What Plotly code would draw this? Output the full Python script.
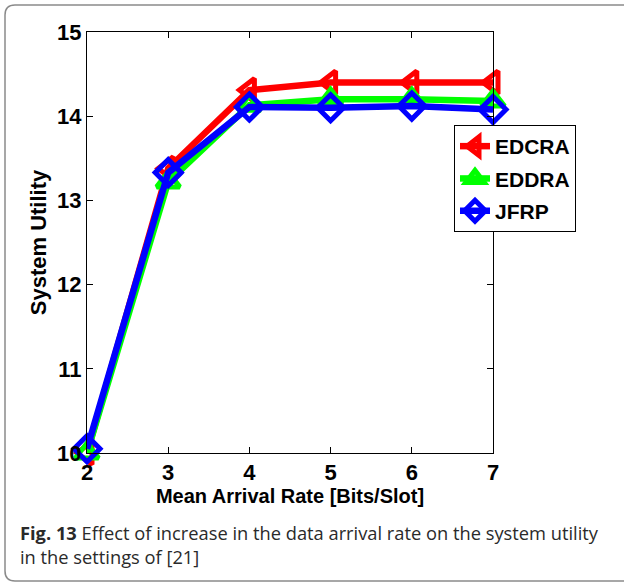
import plotly.graph_objects as go

rates = [2, 3, 4, 5, 6, 7]
edcra = [10.0, 13.38, 14.31, 14.40, 14.40, 14.40]
eddra = [10.0, 13.22, 14.13, 14.20, 14.20, 14.18]
jfrp = [10.05, 13.33, 14.11, 14.10, 14.12, 14.08]

series = [
    ("EDCRA", edcra, "#ff0000", "triangle-left-open"),
    ("EDDRA", eddra, "#00ff00", "triangle-up-open"),
    ("JFRP", jfrp, "#0000ff", "diamond-open"),
]

fig = go.Figure()
for name, vals, col, sym in series:
    fig.add_trace(go.Scatter(
        x=rates, y=vals, name=name, mode="lines+markers", legendgroup=name,
        line=dict(color=col, width=6.5),
        marker=dict(symbol=sym, size=20, color=col, line=dict(color=col, width=5)),
        cliponaxis=False,
    ))

L, R, T, B = 87, 493, 32, 453
W, H = 624, 584
pw, ph = R - L, B - T

def px(x):
    return (x - L) / pw

def py(y):
    return (B - y) / ph

# rounded frame
x0, y0, x1, y1, r = 5, 5, 632, 581, 10
path = (f"M {px(x0+r)},{py(y0)} L {px(x1-r)},{py(y0)} Q {px(x1)},{py(y0)} {px(x1)},{py(y0+r)} "
        f"L {px(x1)},{py(y1-r)} Q {px(x1)},{py(y1)} {px(x1-r)},{py(y1)} "
        f"L {px(x0+r)},{py(y1)} Q {px(x0)},{py(y1)} {px(x0)},{py(y1-r)} "
        f"L {px(x0)},{py(y0+r)} Q {px(x0)},{py(y0)} {px(x0+r)},{py(y0)} Z")

tick_font = dict(family="Liberation Sans, Arial", size=22, color="black", weight="bold")

fig.update_layout(
    width=W, height=H,
    margin=dict(l=L, r=W - R, t=T, b=H - B),
    paper_bgcolor="white", plot_bgcolor="white",
    showlegend=True,
    legend=dict(
        x=px(454), y=py(125), xanchor="left", yanchor="top",
        bgcolor="white", bordercolor="black", borderwidth=1,
        font=dict(family="Liberation Sans, Arial", size=21, color="black", weight="bold"),
        itemwidth=30, tracegroupgap=2,
    ),
    xaxis=dict(
        range=[2, 7], tickvals=rates, ticktext=[str(v) for v in rates],
        showgrid=False, zeroline=False, showline=True, linecolor="black", linewidth=1,
        mirror="ticks", ticks="inside", ticklen=6, tickcolor="black",
        tickfont=tick_font,
        title=dict(text="<b>Mean Arrival Rate [Bits/Slot]</b>",
                   font=dict(family="Liberation Sans, Arial", size=20, color="black"), standoff=0),
    ),
    yaxis=dict(
        range=[10, 15], tickvals=[10, 11, 12, 13, 14, 15],
        showgrid=False, zeroline=False, showline=True, linecolor="black", linewidth=1,
        mirror="ticks", ticks="inside", ticklen=6, tickcolor="black",
        tickfont=tick_font,
        title=dict(text="<b>System Utility</b>",
                   font=dict(family="Liberation Sans, Arial", size=22, color="black"), standoff=4),
    ),
    shapes=[dict(type="path", path=path, xref="paper", yref="paper",
                 line=dict(color="#8a8a8a", width=1.5), layer="below")],
    annotations=[dict(
        xref="paper", yref="paper", x=px(18), y=py(518), xanchor="left", yanchor="top",
        align="left", showarrow=False,
        text="<b>Fig. 13</b> Effect of increase in the data arrival rate on the system utility<br>in the settings of [21]",
        font=dict(family="Open Sans", size=18.3, color="#2a2a2a"),
    )],
)

fig.write_html("out.html")
